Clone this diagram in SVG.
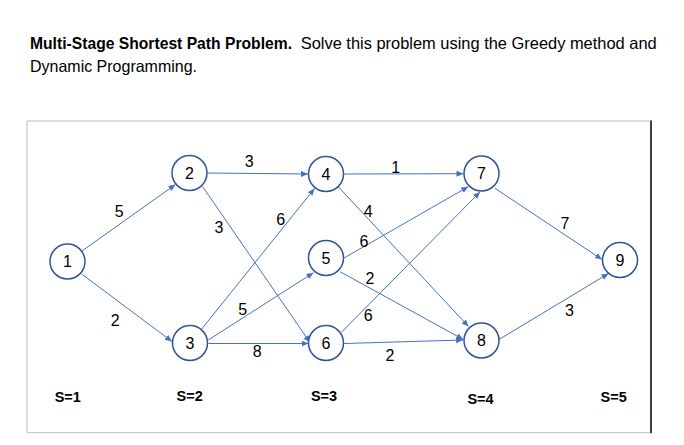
<svg xmlns="http://www.w3.org/2000/svg" width="684" height="445" viewBox="0 0 684 445">
<style>
.t{font-family:"Liberation Sans",Arial,sans-serif;font-size:16.5px;fill:#000}
.b{font-weight:bold}
.n circle{fill:#fff;stroke:#2F5597;stroke-width:1.5}
.lbl{font-family:"Liberation Sans",Arial,sans-serif;font-size:16px;fill:#000;text-anchor:middle}
.stage{font-family:"Liberation Sans",Arial,sans-serif;font-size:14.5px;font-weight:bold;fill:#000;text-anchor:middle}
#edges line{stroke:#4472C4;stroke-width:1;marker-end:url(#ah)}
</style>
<defs>
<marker id="ah" markerUnits="userSpaceOnUse" markerWidth="8" markerHeight="7" refX="7" refY="3" orient="auto">
<path d="M0,0 L7,3 L0,6 Z" fill="#4472C4"/>
</marker>
</defs>
<rect width="684" height="445" fill="#fff"/>
<text class="t" y="48.5"><tspan class="b" x="30" textLength="262" lengthAdjust="spacingAndGlyphs">Multi-Stage Shortest Path Problem.</tspan><tspan x="300.7" textLength="356" lengthAdjust="spacingAndGlyphs">Solve this problem using the Greedy method and</tspan></text>
<text class="t" x="30" y="72" textLength="167" lengthAdjust="spacingAndGlyphs">Dynamic Programming.</text>
<g id="frame">
<path d="M651,121 H27 V432.7 H651" fill="none" stroke="#bfbfbf" stroke-width="1"/>
<line x1="651" y1="120.5" x2="651" y2="433.2" stroke="#000" stroke-width="1.5"/>
</g>
<g id="edges">
<line x1="82.07" y1="250.93" x2="175.5" y2="184.5"/>
<line x1="81.7" y1="274" x2="172" y2="341.5"/>
<line x1="207.5" y1="173" x2="308" y2="174"/>
<line x1="202.7" y1="186.7" x2="310" y2="342.5"/>
<line x1="201.7" y1="329" x2="314.5" y2="188.5"/>
<line x1="208.3" y1="340" x2="313.5" y2="272.7"/>
<line x1="208.3" y1="343.5" x2="308.5" y2="343.5"/>
<line x1="344" y1="174" x2="463.5" y2="173.7"/>
<line x1="338.5" y1="187" x2="468.5" y2="326.5"/>
<line x1="344" y1="258" x2="468.3" y2="186.7"/>
<line x1="340" y1="271.7" x2="463.3" y2="339.5"/>
<line x1="341.7" y1="332" x2="480" y2="192"/>
<line x1="344" y1="343.5" x2="463" y2="340"/>
<line x1="495" y1="188.3" x2="602" y2="259.5"/>
<line x1="499" y1="339.5" x2="608.5" y2="273.5"/>
</g>
<g id="edge-labels">
<text class="lbl" x="119.3" y="216.5">5</text>
<text class="lbl" x="115.3" y="325.8">2</text>
<text class="lbl" x="249.3" y="166.5">3</text>
<text class="lbl" x="219" y="232.5">3</text>
<text class="lbl" x="280.7" y="224.8">6</text>
<text class="lbl" x="242.7" y="315">5</text>
<text class="lbl" x="257.3" y="357.3">8</text>
<text class="lbl" x="395.7" y="173">1</text>
<text class="lbl" x="368.3" y="216.5">4</text>
<text class="lbl" x="364" y="246.5">6</text>
<text class="lbl" x="370" y="284">2</text>
<text class="lbl" x="368.3" y="320.7">6</text>
<text class="lbl" x="390" y="360.8">2</text>
<text class="lbl" x="565" y="229">7</text>
<text class="lbl" x="569.5" y="315.8">3</text>
</g>
<g id="node1" class="n"><circle cx="67.5" cy="261.5" r="17.5"/><text class="lbl" x="67.5" y="267.3">1</text></g>
<g id="node2" class="n"><circle cx="189.5" cy="173" r="17.5"/><text class="lbl" x="189.5" y="178.8">2</text></g>
<g id="node3" class="n"><circle cx="190" cy="343" r="17.5"/><text class="lbl" x="190" y="348.8">3</text></g>
<g id="node4" class="n"><circle cx="326" cy="174" r="17.5"/><text class="lbl" x="326" y="179.8">4</text></g>
<g id="node5" class="n"><circle cx="326" cy="258" r="17.5"/><text class="lbl" x="326" y="263.8">5</text></g>
<g id="node6" class="n"><circle cx="326" cy="343" r="17.5"/><text class="lbl" x="326" y="348.8">6</text></g>
<g id="node7" class="n"><circle cx="481.5" cy="173.5" r="17.5"/><text class="lbl" x="481.5" y="179.3">7</text></g>
<g id="node8" class="n"><circle cx="481.5" cy="340.5" r="17.5"/><text class="lbl" x="481.5" y="346.3">8</text></g>
<g id="node9" class="n"><circle cx="620" cy="260" r="17.5"/><text class="lbl" x="620" y="265.8">9</text></g>
<g id="stages">
<text class="stage" x="67.8" y="401.8">S=1</text>
<text class="stage" x="189.7" y="401.2">S=2</text>
<text class="stage" x="324" y="401.2">S=3</text>
<text class="stage" x="480.5" y="403.5">S=4</text>
<text class="stage" x="613.7" y="401.8">S=5</text>
</g>
</svg>
